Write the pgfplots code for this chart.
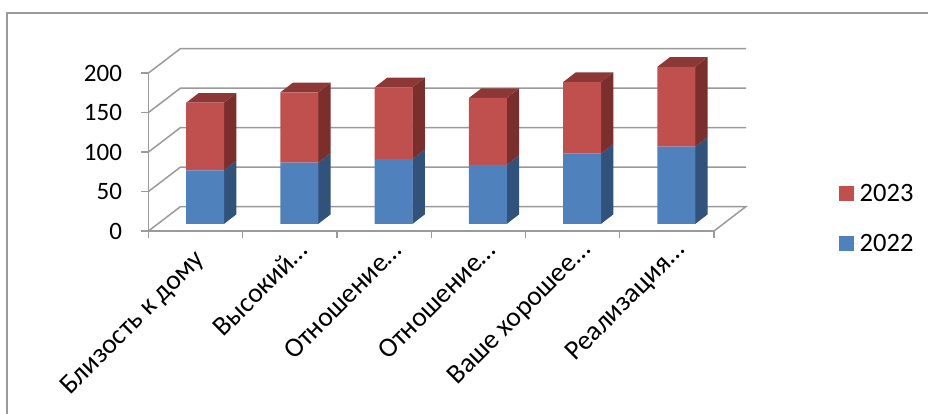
\documentclass[border=0pt]{standalone}
\usepackage{fontspec}
\setmainfont{Carlito}
\usepackage{pgfplots}
\usepackage{pgfplotstable}
\pgfplotsset{compat=1.18}

\definecolor{wall}{HTML}{9A9A9A}
\definecolor{blueF}{HTML}{4F81BD}
\definecolor{blueS}{HTML}{31527B}
\definecolor{redF}{HTML}{C0504D}
\definecolor{redS}{HTML}{7B2F2D}
\definecolor{redT}{HTML}{8B3836}

% value of 2022, value of 2023
\pgfplotstableread{
x   y22   y23
0.6 68    85.5
1.6 77.6  89.1
2.6 82    91
3.6 74.7  84.8
4.6 89    90.7
5.6 97.9  101.1
}\bars

% depth of the bars
\def\bw{0.2}
\def\dx{0.133}
\def\dy{12.3}
% x centre, top of blue, top of red
\newcommand\barsides[3]{
  \addplot[fill=blueS,draw=none] coordinates {(#1+\bw,0)(#1+\bw,#2)(#1+\bw+\dx,#2+\dy)(#1+\bw+\dx,\dy)} --cycle;
  \addplot[fill=redS,draw=none] coordinates {(#1+\bw,#2)(#1+\bw,#3)(#1+\bw+\dx,#3+\dy)(#1+\bw+\dx,#2+\dy)} --cycle;
  \addplot[fill=redT,draw=none] coordinates {(#1-\bw,#3)(#1+\bw,#3)(#1+\bw+\dx,#3+\dy)(#1-\bw+\dx,#3+\dy)} --cycle;
}

\pgfplotsset{base/.style={
  scale only axis,width=565.5pt,height=158pt,
  xmin=0,xmax=6,ymin=-8.86,ymax=191.14,clip=false,
}}

\begin{document}
\begin{tikzpicture}
\useasboundingbox (-148.5pt,-183pt) rectangle (779.5pt,231pt);
\draw[wall,line width=1.5pt] (-141.5pt,-190pt) -- (-141.5pt,218pt) -- (790pt,218pt);
\begin{axis}[base,
  axis x line*=bottom,axis y line*=left,
  axis line style={wall,line width=1.5pt,-},
  tick align=outside,major tick length=7pt,minor tick length=7pt,
  tick style={wall,line width=1.3pt},
  xtick={0.5,1.5,2.5,3.5,4.5,5.5},
  minor xtick={0,1,2,3,4,5,6},
  major x tick style={draw=none},
  xticklabels={Близость к дому\hspace*{13pt},Высокий…,Отношение…,Отношение…,Ваше хорошее…,Реализация…},
  x tick label style={rotate=45,anchor=north east,inner sep=0pt,yshift=-5pt,xshift=4pt,font=\fontsize{27.5}{30}\selectfont},
  ytick={-8.86,41.14,91.14,141.14,191.14},
  yticklabels={0,50,100,150,200},
  y tick label style={xshift=-16pt,font=\fontsize{25}{30}\selectfont},
]
% back wall and floor
\addplot[wall,line width=1.5pt] coordinates {(0,-8.86)(0.34,22.14)(6.34,22.14)(6,-8.86)};
\addplot[wall,line width=1.5pt] coordinates {(0,41.14)(0.34,72.14)(6.34,72.14)};
\addplot[wall,line width=1.5pt] coordinates {(0,91.14)(0.34,122.14)(6.34,122.14)};
\addplot[wall,line width=1.5pt] coordinates {(0,141.14)(0.34,172.14)(6.34,172.14)};
\addplot[wall,line width=1.5pt] coordinates {(0,191.14)(0.34,222.14)(6.34,222.14)};
\barsides{0.6}{68}{153.5}
\barsides{1.6}{77.6}{166.7}
\barsides{2.6}{82}{173}
\barsides{3.6}{74.7}{159.5}
\barsides{4.6}{89}{179.7}
\barsides{5.6}{97.9}{199}
\end{axis}
\begin{axis}[base,hide axis,
  ybar stacked,bar width=38pt,
  reverse legend,
  legend style={draw=none,fill=none,at={(687pt,-26pt)},anchor=south west,
    font=\fontsize{26.5}{30}\selectfont,row sep=27pt},
  legend image code/.code={\fill[#1] (0pt,-7.5pt) rectangle (15pt,7.5pt);\path (0pt,0pt) -- (19pt,0pt);},
]
\addplot[fill=blueF,draw=none] table[x=x,y=y22] {\bars};
\addplot[fill=redF,draw=none] table[x=x,y=y23] {\bars};
\legend{2022,2023}
\end{axis}
\end{tikzpicture}
\end{document}
